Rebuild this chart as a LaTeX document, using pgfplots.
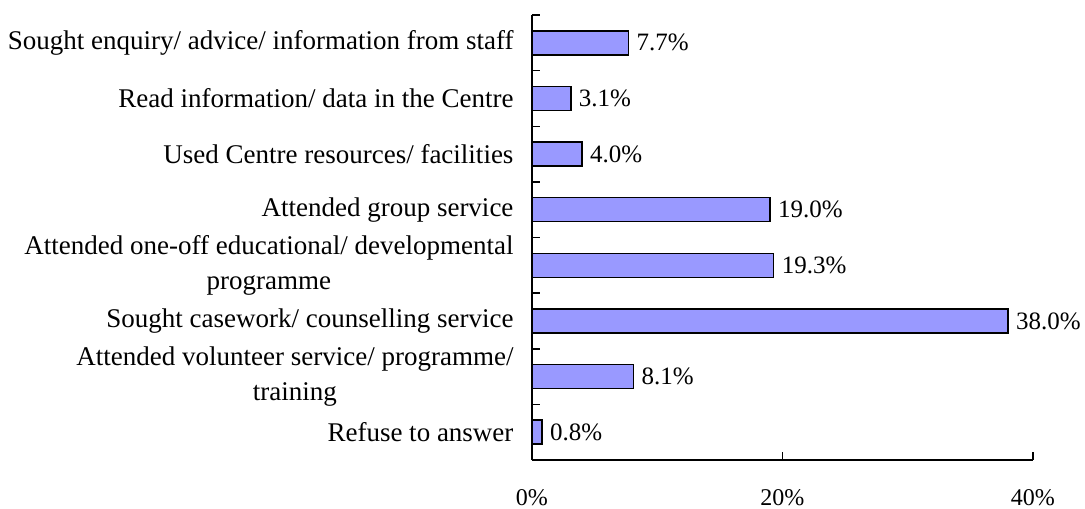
\documentclass[border=0pt]{standalone}
\usepackage{fontspec}
\setmainfont{Liberation Serif}
\usepackage{pgfplots}
\pgfplotsset{compat=1.18}
\definecolor{barfill}{RGB}{153,153,255}

\begin{document}
\begin{tikzpicture}[font=\fontsize{24}{30}\selectfont]
\begin{axis}[
    xbar,
    scale only axis,
    width=501pt, height=445pt,
    xmin=0, xmax=40,
    ymin=-0.5, ymax=7.5,
    y dir=reverse,
    axis lines=left,
    axis line style={line width=1.5pt, -},
    bar width=24pt,
    tick align=inside,
    xtick={0,20,40},
    xticklabels={0\%,20\%,40\%},
    xticklabel style={yshift=-26pt},
    major tick length=8pt,
    minor tick length=8pt,
    tick style={line width=1.5pt, black},
    ytick={0,...,7},
    major y tick style={draw=none},
    minor ytick={-0.5,0.5,...,7.5},
    yticklabels={
        Sought enquiry/ advice/ information from staff,
        Read information/ data in the Centre,
        Used Centre resources/ facilities,
        Attended group service,
        {Attended one-off educational/ developmental\\programme},
        Sought casework/ counselling service,
        {Attended volunteer service/ programme/\\training},
        Refuse to answer},
    yticklabel style={align=center, font=\fontsize{27}{35}\selectfont, xshift=-15pt},
    nodes near coords={\pgfmathprintnumber[fixed,fixed zerofill,precision=1,assume math mode=true]{\pgfplotspointmeta}\%},
    nodes near coords align={horizontal},
    every node near coord/.append style={font=\fontsize{25}{30}\selectfont, xshift=4pt},
    clip=false,
]
\addplot[fill=barfill, draw=black, line width=1.5pt] coordinates {
    (7.7,0) (3.1,1) (4.0,2) (19.0,3) (19.3,4) (38.0,5) (8.1,6) (0.8,7)
};
\end{axis}
\pgfresetboundingbox
\path (current axis.south west) ++(-532pt,-49pt) rectangle ++(1085pt,509pt);
\end{tikzpicture}
\end{document}
